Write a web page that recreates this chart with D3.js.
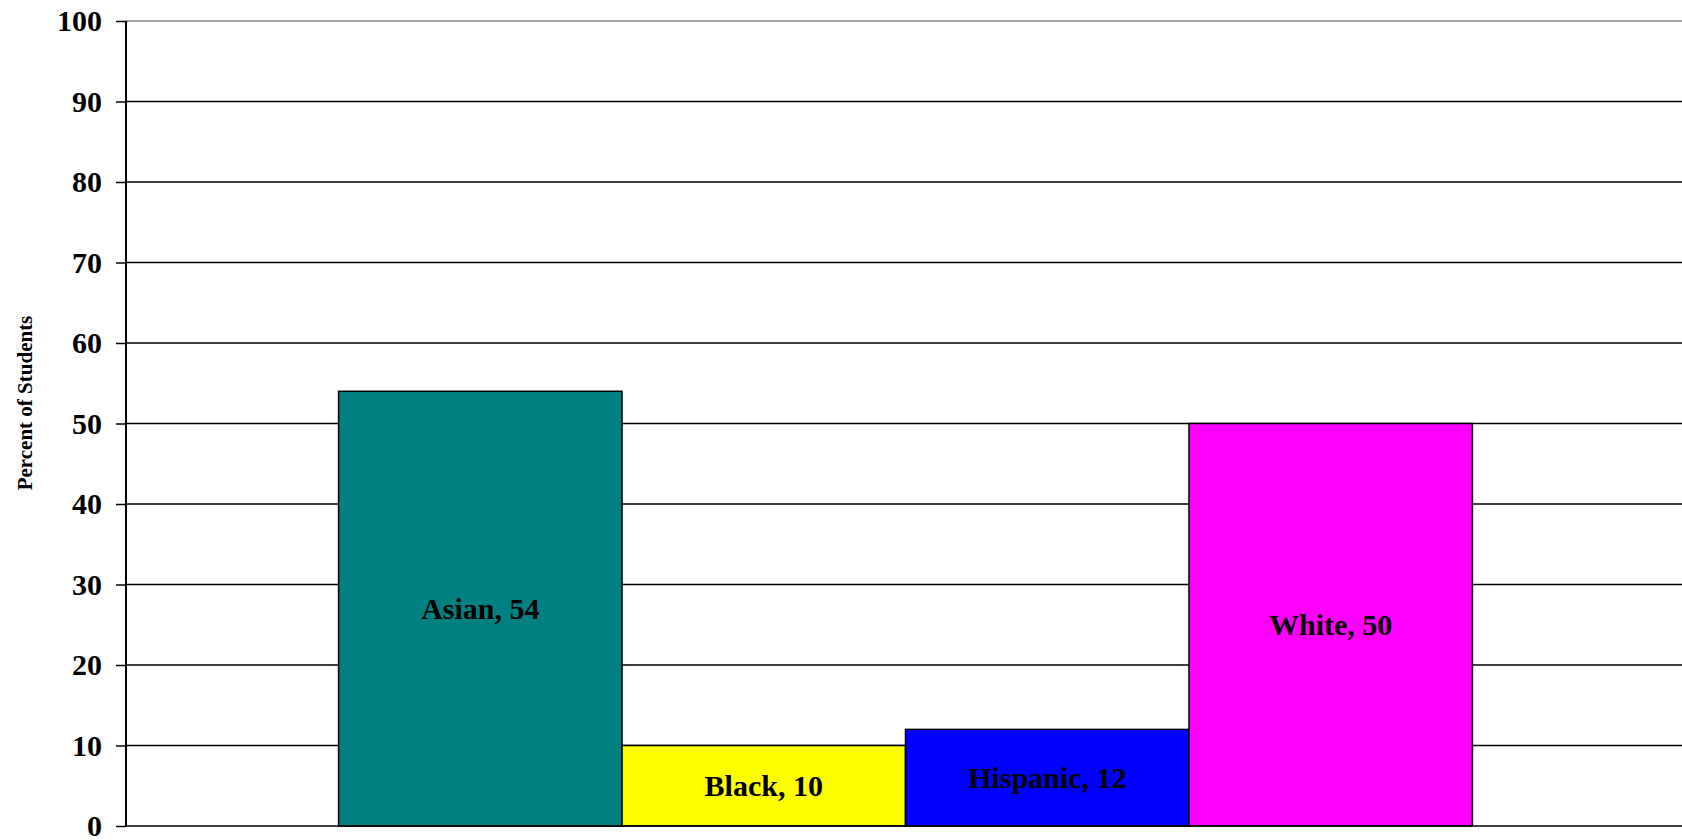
<!DOCTYPE html>
<html>
<head>
<meta charset="utf-8">
<script src="https://cdn.jsdelivr.net/npm/d3@7"></script>
<style>
html, body { margin: 0; padding: 0; background: #fff; }
svg { display: block; }
text { font-family: "Liberation Serif", "Times New Roman", serif; font-weight: bold; }
</style>
</head>
<body>
<svg id="chart" width="1682" height="840"></svg>
<script>
const categories = ["Asian", "Black", "Hispanic", "White"];
const values = [54, 10, 12, 50];
const colors = ["#008080", "#FFFF00", "#0000FF", "#FF00FF"];
const yTicks = [0, 10, 20, 30, 40, 50, 60, 70, 80, 90, 100];
const yTitle = "Percent of Students";

(function () {
const svg = d3.select("#chart");
const pLeft = 126, pRight = 1685, pTop = 21, pBottom = 826;

const x = d3.scaleBand().domain(categories).range([pLeft, pRight]).paddingInner(0).paddingOuter(0.75);
const y = d3.scaleLinear().domain([0, 100]).range([pBottom, pTop]);

// gridlines
svg.append("g").selectAll("line").data(yTicks.filter(t => t > 0 && t < 100)).join("line")
  .attr("x1", pLeft).attr("x2", pRight)
  .attr("y1", d => y(d)).attr("y2", d => y(d))
  .attr("stroke", "#000").attr("stroke-width", 1.5);

// plot border (gray)
svg.append("line").attr("x1", pLeft).attr("x2", pRight).attr("y1", y(100)).attr("y2", y(100))
  .attr("stroke", "#808080").attr("stroke-width", 1.5);

// bars
svg.append("g").selectAll("rect").data(categories).join("rect")
  .attr("x", d => x(d))
  .attr("y", (d, i) => y(values[i]))
  .attr("width", x.bandwidth())
  .attr("height", (d, i) => y(0) - y(values[i]))
  .attr("fill", (d, i) => colors[i])
  .attr("stroke", "#000").attr("stroke-width", 1.5);

// bottom axis line
svg.append("line").attr("x1", pLeft).attr("x2", pRight).attr("y1", y(0)).attr("y2", y(0))
  .attr("stroke", "#000").attr("stroke-width", 1.5);

// bar labels
svg.append("g").selectAll("text").data(categories).join("text")
  .attr("x", d => x(d) + x.bandwidth() / 2)
  .attr("y", (d, i) => (y(values[i]) + y(0)) / 2)
  .attr("dy", "0.35em")
  .attr("text-anchor", "middle")
  .attr("font-size", 30)
  .attr("fill", "#000")
  .text((d, i) => `${d}, ${values[i]}`);

// y axis
const yAxis = d3.axisLeft(y).tickValues(yTicks).tickSize(10).tickPadding(14).tickFormat(d3.format("d"));
const ag = svg.append("g").attr("transform", `translate(${pLeft},0)`).call(yAxis);
ag.select(".domain").attr("stroke", "#000").attr("stroke-width", 2).attr("d", `M0,${pTop}V${pBottom}`);
ag.selectAll(".tick line").attr("stroke", "#000").attr("stroke-width", 1.5);
ag.selectAll(".tick text").attr("font-size", 30).attr("font-family", "Liberation Serif, serif")
  .attr("font-weight", "bold").attr("fill", "#000");

// y title
svg.append("text")
  .attr("transform", `translate(32,403) rotate(-90)`)
  .attr("text-anchor", "middle")
  .attr("font-size", 21)
  .attr("fill", "#000")
  .text(yTitle);
})();
</script>
</body>
</html>
